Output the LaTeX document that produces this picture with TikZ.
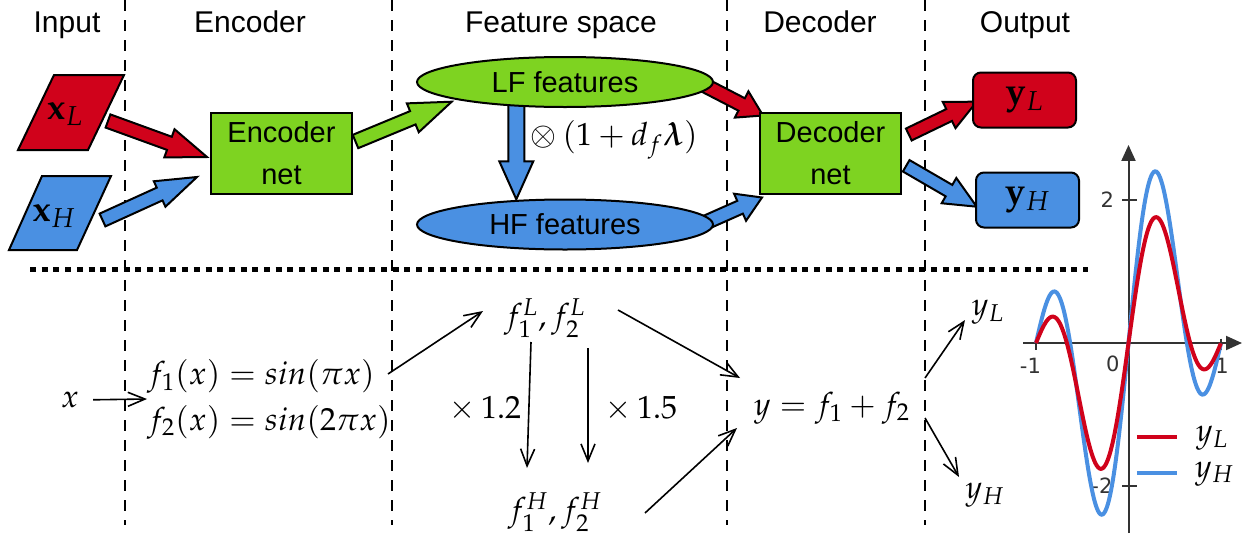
\documentclass[tikz,border=0pt]{standalone}
\usepackage{amsmath}
\usepackage{mathpazo}
\usepackage[no-math]{fontspec}
\setmainfont{Liberation Sans}
\newfontfamily\ticksfont{DejaVu Sans}
\usetikzlibrary{calc,arrows.meta,shapes.geometric}
\definecolor{cred}{RGB}{208,2,27}
\definecolor{cgreen}{RGB}{126,211,33}
\definecolor{cblue}{RGB}{74,144,226}
\definecolor{axgray}{RGB}{51,51,51}
% block arrow: from, to, colour, shaft half width, head half width, head length
\newcommand\blockarrow[6]{%
  \path[barrow, fill=#3] let \p1=(#1), \p2=(#2),
    \n1={atan2(\y2-\y1,\x2-\x1)}, \n2={veclen(\x2-\x1,\y2-\y1)} in
    ($(\p1)+({\n1+90}:#4)$)
    -- ($(\p1)+(\n1:{\n2-#6})+({\n1+90}:#4)$)
    -- ($(\p1)+(\n1:{\n2-#6})+({\n1+90}:#5)$)
    -- (\p2)
    -- ($(\p1)+(\n1:{\n2-#6})+({\n1-90}:#5)$)
    -- ($(\p1)+(\n1:{\n2-#6})+({\n1-90}:#4)$)
    -- ($(\p1)+({\n1-90}:#4)$) -- cycle;}
\begin{document}
\begin{tikzpicture}[x=0.5pt,y=-0.5pt,
  hdr/.style={font=\fontsize{15}{18}\selectfont, anchor=base, inner sep=0},
  netbox/.style={draw=black, line width=1pt, fill=cgreen, minimum width=70.5pt,
    minimum height=40.5pt, align=center, font=\fontsize{14.5}{21}\selectfont, inner sep=0},
  feat/.style={ellipse, draw=black, line width=1pt, minimum width=148pt,
    minimum height=25pt, font=\fontsize{14.5}{17}\selectfont, inner sep=0},
  outbox/.style={draw=black, line width=1pt, rounded corners=4pt, minimum width=51.5pt,
    minimum height=27.5pt, inner sep=0, font=\fontsize{18}{20}\selectfont},
  inbox/.style={draw=black, line width=1pt, line join=miter},
  sep/.style={line width=1pt, dash pattern=on 5.5pt off 4.5pt},
  mth/.style={font=\fontsize{16}{23}\selectfont, inner sep=0},
  bigmth/.style={font=\fontsize{18}{20}\selectfont, inner sep=0},
  thinarrow/.style={line width=0.8pt, -{Straight Barb[length=8.5pt,width=7pt]}},
  barrow/.style={draw=black, line width=1pt, line join=miter},
  axis/.style={draw=axgray, line width=1pt},
  ticklbl/.style={font={\ticksfont\fontsize{10.5}{12}\selectfont}, text=axgray, inner sep=0},
  curve/.style={line width=2pt, domain=-1:1, samples=150, smooth}
]
\useasboundingbox (0,0) rectangle (1253,536);

% separators
\foreach \xx in {125,392,727,925} \draw[sep] (\xx,0) -- (\xx,525);
\draw[line width=2.5pt, dash pattern=on 3pt off 2.85pt] (30,269) -- (1088,269);

% headers
\node[hdr] (hin)  at (67,32)  {Input};
\node[hdr] (henc) at (250,32) {Encoder};
\node[hdr] (hfs)  at (561,32) {Feature space};
\node[hdr] (hdec) at (820,32) {Decoder};
\node[hdr] (hout) at (1025,32) {Output};

% block arrow end points
\coordinate (a1s) at (108,121);   \coordinate (a1e) at (207,157);
\coordinate (a2s) at (102.5,220); \coordinate (a2e) at (197,177);
\coordinate (a3s) at (355.5,141.5); \coordinate (a3e) at (451.7,101.7);
\coordinate (a4s) at (516.3,104); \coordinate (a4e) at (516.3,199.3);
\coordinate (a5s) at (704,85);    \coordinate (a5e) at (763,115.5);
\coordinate (a6s) at (700,225);   \coordinate (a6e) at (762,197.5);
\coordinate (a7s) at (908.8,134.5); \coordinate (a7e) at (976.7,101.7);
\coordinate (a8s) at (906.2,165.8); \coordinate (a8e) at (976.7,206.7);

\blockarrow{a1s}{a1e}{cred}{3.5pt}{7.5pt}{20pt}
\blockarrow{a2s}{a2e}{cblue}{3.5pt}{7pt}{20.5pt}
\blockarrow{a3s}{a3e}{cgreen}{3.6pt}{7.8pt}{21pt}
\blockarrow{a4s}{a4e}{cblue}{4pt}{8.5pt}{19pt}
\blockarrow{a5s}{a5e}{cred}{3.5pt}{7.4pt}{12pt}
\blockarrow{a6s}{a6e}{cblue}{3.5pt}{7.4pt}{12pt}
\blockarrow{a7s}{a7e}{cred}{3.3pt}{7.3pt}{15.3pt}
\blockarrow{a8s}{a8e}{cblue}{3.3pt}{7.3pt}{16pt}

% inputs
\draw[inbox, fill=cred] (54,75) -- (124,75) -- (88,150) -- (18,150) -- cycle;
\node[bigmth] (xL) at (65,114) {$\mathbf{x}_L$};
\draw[inbox, fill=cblue] (42,176) -- (111,176) -- (77,250) -- (9,250) -- cycle;
\node[bigmth] (xH) at (54,216) {$\mathbf{x}_H$};

% nets and features
\node[netbox] (enc) at (281.5,153.5) {Encoder\\net};
\node[netbox] (dec) at (830.5,153.5) {Decoder\\net};
\node[feat, fill=cgreen] (lf) at (565,82) {LF features};
\node[feat, fill=cblue] (hf) at (565,224.5) {HF features};
\node[mth] (op) at (614,140) {$\otimes\,(1+d_f\boldsymbol{\lambda})$};

% outputs
\node[outbox, fill=cred] (yLb) at (1024.5,100) {$\mathbf{y}_L$};
\node[outbox, fill=cblue] (yHb) at (1027.5,200) {$\mathbf{y}_H$};

% lower part
\node[mth] (x) at (70,400) {$x$};
\node[mth, anchor=west, align=left] (f12) at (147,399)
  {$f_1(x) = sin(\pi x)$\\$f_2(x) = sin(2\pi x)$};
\node[mth] (fL) at (545,318) {$f_1^L, f_2^L$};
\node[mth] (fH) at (555,512) {$f_1^H, f_2^H$};
\node[mth] (m12) at (485,409) {$\times\,1.2$};
\node[mth] (m15) at (641,409) {$\times\,1.5$};
\node[mth] (ysum) at (832,408) {$y = f_1 + f_2$};
\node[mth] (yl) at (988,312) {$y_L$};
\node[mth] (yh) at (985,495) {$y_H$};

\coordinate (b1s) at (388,374); \coordinate (b1e) at (483,311);
\coordinate (b2s) at (531,342); \coordinate (b2e) at (527,468);
\coordinate (b3s) at (588,348); \coordinate (b3e) at (588,463);
\coordinate (b4s) at (618,310); \coordinate (b4e) at (740,378);
\coordinate (b5s) at (645,513); \coordinate (b5e) at (737,428);
\coordinate (b6s) at (925,378); \coordinate (b6e) at (965,320);
\coordinate (b7s) at (925,418); \coordinate (b7e) at (959,477);

\draw[thinarrow, shorten <=7pt] (x.east) -- (f12.west);
\draw[thinarrow] (b1s) -- (b1e);
\draw[thinarrow] (b2s) -- (b2e);
\draw[thinarrow] (b3s) -- (b3e);
\draw[thinarrow] (b4s) -- (b4e);
\draw[thinarrow] (b5s) -- (b5e);
\draw[thinarrow] (b6s) -- (b6e);
\draw[thinarrow] (b7s) -- (b7e);

% plot
\begin{scope}[shift={(1128.5,343)}, x=46.25pt, y=35.75pt]
  \draw[axis, -{Triangle[length=8pt,width=7pt]}] (-1.14,0) -- (1.227,0);
  \draw[axis, -{Triangle[length=8pt,width=7pt]}] (0,-2.66) -- (0,2.77);
  \draw[axis] (-0.07,2) -- (0.09,2);
  \draw[axis] (-0.07,-2) -- (0.09,-2);
  \draw[axis] (-1,0.06) -- (-1,-0.1);
  \draw[axis] (1,0.06) -- (1,-0.1);
  \node[ticklbl] (t2)  at (-0.23,2) {2};
  \node[ticklbl, anchor=east] (tm2) at (-0.17,-2) {-2};
  \node[ticklbl] (tm1) at (-1.06,-0.32) {-1};
  \node[ticklbl] (t0)  at (-0.17,-0.29) {0};
  \node[ticklbl] (t1)  at (1.01,-0.32) {1};
  \draw[curve, cblue] plot (\x, {1.2*sin(180*\x)+1.5*sin(360*\x)});
  \draw[curve, cred] plot (\x, {sin(180*\x)+sin(360*\x)});
  \draw[line width=2pt, cred] (0.09,-1.32) -- (0.525,-1.32);
  \draw[line width=2pt, cblue] (0.09,-1.82) -- (0.525,-1.82);
  \node[mth] (lgL) at (0.905,-1.33) {$y_L$};
  \node[mth] (lgH) at (0.93,-1.83) {$y_H$};
\end{scope}
\end{tikzpicture}
\end{document}
